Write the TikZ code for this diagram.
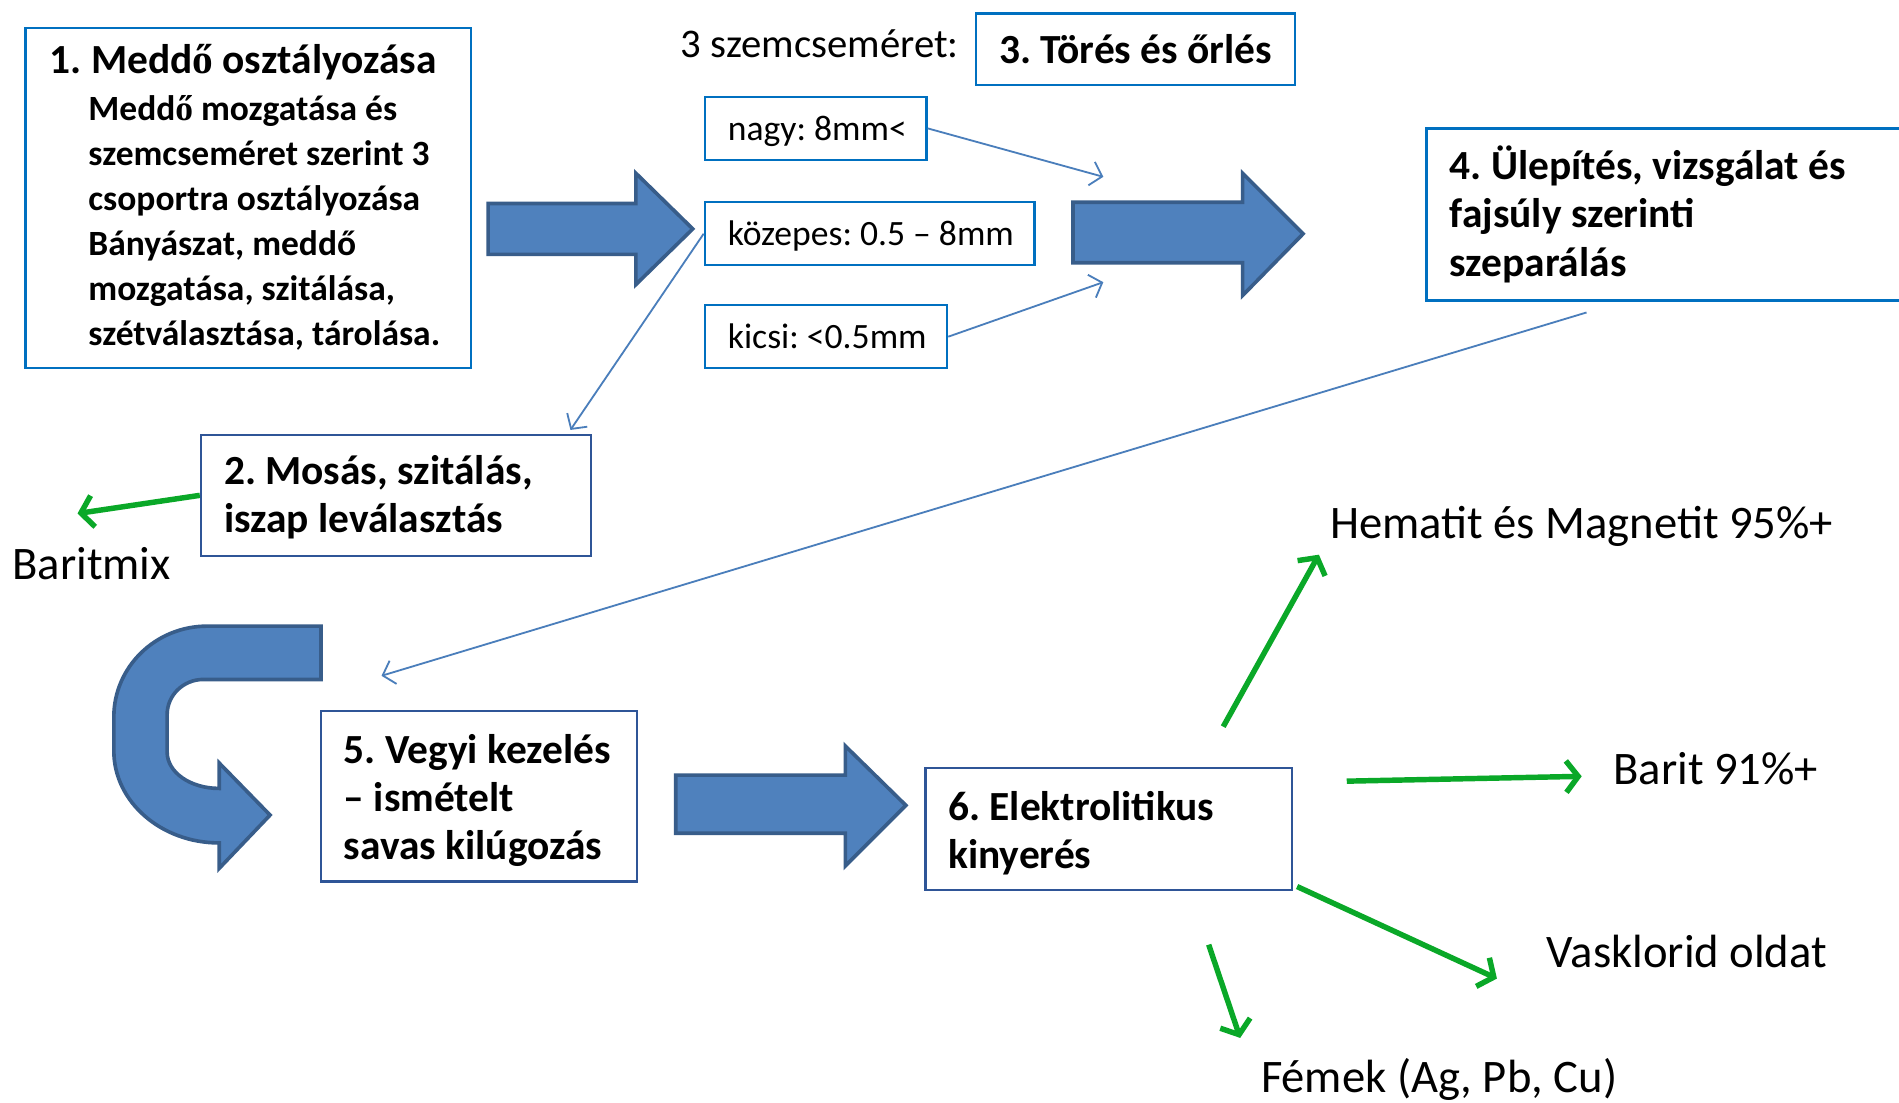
\documentclass[tikz,border=0pt]{standalone}
\usepackage{fontspec}
\setmainfont{Carlito}
\newfontfamily\tnrfont{Liberation Serif}
\usetikzlibrary{arrows.meta}
\definecolor{boxblue}{RGB}{0,112,192}
\definecolor{darkbox}{RGB}{47,85,151}
\definecolor{fillblue}{RGB}{79,129,189}
\definecolor{edgeblue}{RGB}{56,93,138}
\definecolor{thinblue}{RGB}{74,126,187}
\definecolor{grn}{RGB}{10,168,40}
\newcommand\boxlines[3][4pt]{\raisebox{-#1}[\height][\depth]{\makebox[#2][l]{\begin{tabular}{@{}l@{}}#3\end{tabular}}}}
\begin{document}
\frenchspacing
\begin{tikzpicture}[x=1pt,y=-1pt,
  brightbox/.style={draw=boxblue, line width=2pt, inner ysep=0pt, inner xsep=19pt},
  darkboxst/.style={draw=darkbox, line width=2pt, inner ysep=0pt, inner xsep=19pt},
  headfont/.style={font=\fontsize{34.2}{40}\selectfont\bfseries},
  smallfont/.style={font=\fontsize{29.4}{35}\selectfont},
  labelfont/.style={font=\fontsize{38.5}{44}\selectfont, inner sep=0pt},
  blockarrow/.style={fill=fillblue, draw=edgeblue, line width=3pt, line join=miter},
  thinarrow/.style={draw=thinblue, line width=1.5pt, -{Straight Barb[length=9pt,width=20pt,line width=1.5pt]}},
  greenarrow/.style={draw=grn, line width=4.5pt, -{Straight Barb[length=10pt,width=26pt,line width=4.5pt]}}
]
\useasboundingbox (0,0) rectangle (1568,910);
\fill[white] (0,0) rectangle (1568,910);

% Box 1
\node[brightbox, anchor=north west, minimum width=368pt, minimum height=281pt,
  inner xsep=20pt, font=\fontsize{29.3}{37}\selectfont\bfseries] (b1) at (20,22)
  {\boxlines[2pt]{328pt}{{\fontsize{34.2}{37}\selectfont 1. Medd{\tnrfont ő} osztályozása}\\[2pt]
   \hspace*{32pt}Medd{\tnrfont ő} mozgatása és\\
   \hspace*{32pt}szemcseméret szerint 3\\
   \hspace*{32pt}csoportra osztályozása\\
   \hspace*{32pt}Bányászat, meddő\\
   \hspace*{32pt}mozgatása, szitálása,\\
   \hspace*{32pt}szétválasztása, tárolása.}};

% Box 3
\node[brightbox, headfont, anchor=north west, minimum width=263pt, minimum height=59pt] (b3) at (805,10) {3. Törés és őrlés};
\node[font=\fontsize{33.6}{40}\selectfont, inner sep=0pt, anchor=west] (szem) at (562,36) {3 szemcseméret:};

% small boxes
\node[brightbox, smallfont, anchor=north west, minimum width=183pt, minimum height=52pt] (nagy) at (581,79) {\boxlines[3pt]{145pt}{nagy: 8mm<}};
\node[brightbox, smallfont, anchor=north west, minimum width=272pt, minimum height=52pt] (kozep) at (581,166) {\boxlines[3pt]{234pt}{közepes: 0.5 – 8mm}};
\node[brightbox, smallfont, anchor=north west, minimum width=200pt, minimum height=52pt] (kicsi) at (581,251) {\boxlines[3pt]{162pt}{kicsi: <0.5mm}};

% Box 4
\node[brightbox, headfont, anchor=north west, minimum width=463pt, minimum height=142pt] (b4) at (1177,105)
  {\boxlines[3pt]{425pt}{4. Ülepítés, vizsgálat és\\ fajsúly szerinti\\ szeparálás}};

% Box 2
\node[darkboxst, headfont, anchor=north west, minimum width=322pt, minimum height=100pt] (b2) at (165,358)
  {\boxlines[3pt]{284pt}{2. Mosás, szitálás,\\ iszap leválasztás}};

% Box 5
\node[darkboxst, headfont, anchor=north west, minimum width=261pt, minimum height=141pt] (b5) at (264,586)
  {\boxlines[4.5pt]{223pt}{5. Vegyi kezelés\\ – ismételt\\ savas kilúgozás}};

% Box 6
\node[darkboxst, headfont, anchor=north west, minimum width=303pt, minimum height=101pt] (b6) at (763,633)
  {\boxlines[5pt]{265pt}{6. Elektrolitikus\\ kinyerés}};

% output labels
\node[labelfont, anchor=west] (baritmix) at (10,465) {Baritmix};
\node[labelfont, anchor=west] (hemat) at (1098,435) {Hematit és Magnetit 95\%+};
\node[labelfont, anchor=west] (barit) at (1332,635) {Barit 91\%+};
\node[labelfont, anchor=west] (vask) at (1277,786) {Vasklorid oldat};
\node[labelfont, anchor=west] (femek) at (1041,891) {Fémek (Ag, Pb, Cu)};

% block arrows
\draw[blockarrow] (403,168)--(525,168)--(525,143)--(572,189)--(525,235)--(525,210)--(403,210)--cycle;
\draw[blockarrow] (886,167)--(1026,167)--(1026,143)--(1076,193)--(1026,244)--(1026,217)--(886,217)--cycle;
\draw[blockarrow] (558,640)--(698,640)--(698,616)--(748,665)--(698,715)--(698,688)--(558,688)--cycle;
% U-turn arrow
\draw[blockarrow] (265,517)--(171,517) .. controls (128.5,517) and (94,550.6) .. (94,592)
  --(94,620) .. controls (94,662) and (133,696) .. (181,696)
  --(181,717)--(223,673)--(181,630)--(181,651)
  .. controls (157,651) and (138,637.6) .. (138,621)
  --(138,590) .. controls (138,574) and (151.4,561) .. (168,561)
  --(265,561)--cycle;

% free ends
\coordinate (nagyEnd) at (911,146);
\coordinate (kicsiEnd) at (911,233);
\coordinate (b2In) at (471,355);
\coordinate (b4Out) at (1310,258);
\coordinate (uIn) at (315,558);
\coordinate (bmEnd) at (64,424);
\coordinate (hemStart) at (1010,600);
\coordinate (hemEnd) at (1089,458);
\coordinate (barStart) at (1112,645);
\coordinate (barEnd) at (1306,641);
\coordinate (vasStart) at (1071,732);
\coordinate (vasEnd) at (1236,808);
\coordinate (femStart) at (998,780);
\coordinate (femEnd) at (1024,857);

% thin arrows
\draw[thinarrow] (nagy.east) -- (nagyEnd);
\draw[thinarrow] (kicsi.east) -- (kicsiEnd);
\draw[thinarrow] (kozep.west) -- (b2In);
\draw[thinarrow] (b4Out) -- (uIn);

% green arrows
\draw[greenarrow] (b2.west) -- (bmEnd);
\draw[greenarrow] (hemStart) -- (hemEnd);
\draw[greenarrow] (barStart) -- (barEnd);
\draw[greenarrow] (vasStart) -- (vasEnd);
\draw[greenarrow] (femStart) -- (femEnd);
\end{tikzpicture}
\end{document}
